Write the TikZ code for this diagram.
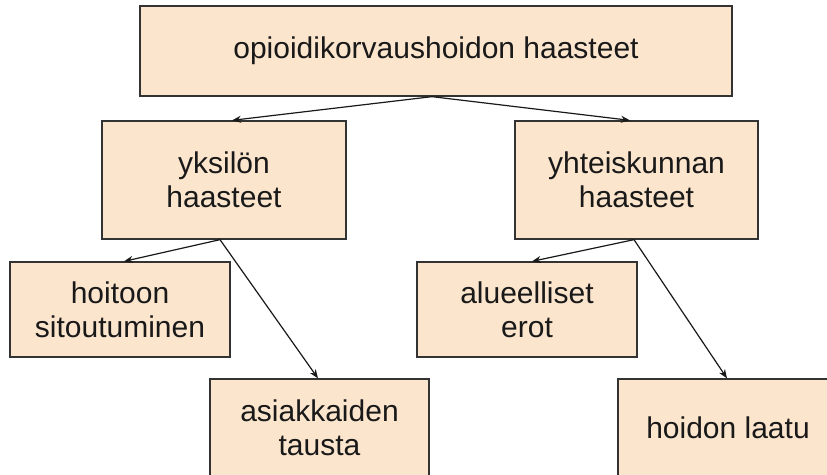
\documentclass[tikz,border=0pt]{standalone}
\usepackage{fontspec}
\setmainfont{Liberation Sans}
\usetikzlibrary{arrows.meta}
\definecolor{boxfill}{HTML}{FCE5CD}
\definecolor{boxline}{HTML}{333333}
\begin{document}
\begin{tikzpicture}[x=1pt,y=-1pt,
  box/.style={draw=boxline,fill=boxfill,line width=1.3pt,rectangle,inner sep=0pt,
    align=center,text=black!90,font=\fontsize{30}{34}\selectfont},
  arr/.style={draw=black!90,line width=1.2pt,-{Stealth[length=9pt,width=7pt]}}]
\useasboundingbox (0,0) rectangle (827,474);
\clip (0,0) rectangle (827,474);
\node[box,minimum width=592pt,minimum height=90pt] (top) at (436,51) {opioidikorvaushoidon haasteet};
\node[box,minimum width=244pt,minimum height=118pt] (yks) at (224,180) {yksilön\\haasteet};
\node[box,minimum width=243pt,minimum height=118pt] (yht) at (636.5,180) {yhteiskunnan\\haasteet};
\node[box,minimum width=220pt,minimum height=95pt] (hoi) at (120,309.5) {hoitoon\\sitoutuminen};
\node[box,minimum width=220pt,minimum height=95pt] (alu) at (527,309.5) {alueelliset\\erot};
\node[box,minimum width=219pt,minimum height=98pt] (asi) at (319.5,428) {asiakkaiden\\tausta};
\node[box,minimum width=220pt,minimum height=98pt] (laa) at (728,428) {hoidon laatu};
\draw[arr] ([xshift=-4pt]top.south) -- ([xshift=8pt]yks.north);
\draw[arr] ([xshift=-4pt]top.south) -- ([xshift=-6.5pt]yht.north);
\draw[arr] ([xshift=-4pt]yks.south) -- ([xshift=4pt]hoi.north);
\draw[arr] ([xshift=-4pt]yks.south) -- ([xshift=-1.5pt]asi.north);
\draw[arr] ([xshift=-2.5pt]yht.south) -- ([xshift=5pt]alu.north);
\draw[arr] ([xshift=-2.5pt]yht.south) -- ([xshift=-1pt]laa.north);
\end{tikzpicture}
\end{document}
